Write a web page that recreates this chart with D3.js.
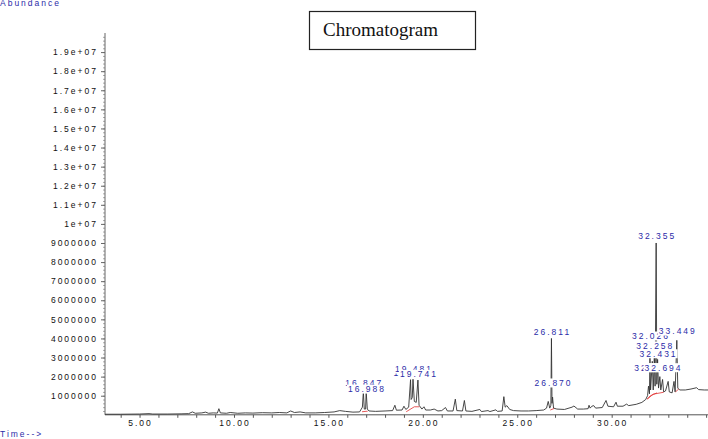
<!DOCTYPE html>
<html>
<head>
<meta charset="utf-8">
<script src="https://cdn.jsdelivr.net/npm/d3@7"></script>
<style>
  body { margin: 0; background: #fff; }
  svg { display: block; }
  .tick-label { font-family: "Liberation Sans", Arial, sans-serif; font-size: 8.5px; letter-spacing: 2px; fill: #111; }
  .peak-label { font-family: "Liberation Sans", Arial, sans-serif; font-size: 8.5px; letter-spacing: 2px; fill: #2b2ba8; }
  .blue-label { font-family: "Liberation Sans", Arial, sans-serif; font-size: 8.5px; letter-spacing: 2px; fill: #2b2ba8; }
</style>
</head>
<body>
<div id="chart"></div>
<script>
//~~~~~~~~~~~~~~~~~~~~~~~~~~~~~~~~~~~~
// Data
//~~~~~~~~~~~~~~~~~~~~~~~~~~~~~~~~~~~~
// trace points: [retention time (min), abundance (millions)]
const trace = [
    [3.17, 0.03], [4.0, 0.03], [5.0, 0.04], [5.5, 0.06], [5.7, 0.04], [6.5, 0.04], [7.2, 0.05],
    [7.6, 0.06], [7.8, 0.15], [7.95, 0.08], [8.3, 0.1], [8.5, 0.14], [8.65, 0.08], [8.9, 0.1],
    [9.12, 0.09], [9.2, 0.32], [9.28, 0.1], [9.6, 0.08], [9.8, 0.12], [10.2, 0.08], [10.6, 0.1],
    [11.0, 0.09], [11.5, 0.11], [12.0, 0.1], [12.4, 0.12], [12.8, 0.1], [13.0, 0.2], [13.2, 0.12],
    [13.5, 0.15], [13.8, 0.1], [14.3, 0.1], [14.8, 0.12], [15.3, 0.15], [15.6, 0.22], [15.9, 0.18],
    [16.3, 0.14], [16.65, 0.15], [16.8, 0.4], [16.85, 1.2], [16.9, 0.3], [16.97, 0.3], [17.0, 1.2],
    [17.06, 0.3], [17.15, 0.2], [17.5, 0.18], [18.0, 0.2], [18.4, 0.22], [18.52, 0.5], [18.6, 0.24],
    [18.9, 0.25], [19.0, 0.45], [19.1, 0.28], [19.25, 0.4], [19.35, 1.84], [19.38, 0.8], [19.44, 0.9],
    [19.48, 1.86], [19.55, 0.7], [19.65, 0.65], [19.74, 1.82], [19.8, 0.5], [19.95, 0.3], [20.06, 0.42],
    [20.15, 0.25], [20.4, 0.25], [20.6, 0.3], [20.8, 0.2], [21.0, 0.22], [21.2, 0.38], [21.3, 0.2],
    [21.6, 0.2], [21.72, 0.82], [21.8, 0.22], [22.1, 0.2], [22.2, 0.75], [22.28, 0.2], [22.6, 0.18],
    [23.02, 0.28], [23.1, 0.17], [23.45, 0.22], [23.55, 0.17], [23.87, 0.26], [23.95, 0.18], [24.2, 0.2],
    [24.29, 0.95], [24.36, 0.4], [24.45, 0.48], [24.6, 0.28], [24.8, 0.22], [25.2, 0.2], [25.6, 0.2],
    [26.0, 0.22], [26.4, 0.25], [26.55, 0.35], [26.64, 0.7], [26.72, 0.35], [26.78, 0.5], [26.81, 4.0],
    [26.84, 0.6], [26.87, 0.93], [26.92, 0.35], [27.1, 0.3], [27.5, 0.28], [27.9, 0.4], [28.0, 0.46],
    [28.2, 0.3], [28.5, 0.3], [28.75, 0.32], [28.8, 0.5], [28.86, 0.35], [28.95, 0.45], [29.05, 0.48],
    [29.15, 0.35], [29.5, 0.38], [29.7, 0.75], [29.8, 0.45], [30.1, 0.42], [30.23, 0.66], [30.3, 0.45],
    [30.6, 0.45], [30.79, 0.56], [30.9, 0.48], [31.3, 0.55], [31.6, 0.65], [31.8, 0.8], [31.9, 1.0],
    [31.95, 1.5], [32.0, 1.1], [32.026, 3.0], [32.06, 1.3], [32.15, 2.8], [32.2, 1.3], [32.258, 3.1],
    [32.3, 1.5], [32.355, 9.0], [32.39, 1.6], [32.431, 2.9], [32.48, 1.4], [32.55, 2.0], [32.6, 1.3],
    [32.694, 1.85], [32.75, 1.2], [32.85, 1.25], [32.99, 1.75], [33.05, 1.2], [33.2, 1.15], [33.3, 1.75],
    [33.36, 1.2], [33.449, 3.9], [33.5, 1.4], [33.6, 1.3], [33.9, 1.3], [34.2, 1.35], [34.5, 1.42],
    [34.6, 1.32], [34.9, 1.3], [35.1, 1.3]
];

// integration baselines: [t1, v1, t2, v2] (millions)
const baselines = [
    [16.78, 0.16, 17.08, 0.19],
    [19.12, 0.16, 19.55, 0.42],
    [19.55, 0.42, 19.82, 0.42],
    [26.75, 0.25, 26.95, 0.33],
    [31.88, 0.82, 32.05, 1.0],
    [31.88, 0.82, 32.2, 1.08],
    [32.05, 1.0, 32.4, 1.15],
    [32.2, 1.08, 32.75, 1.18],
    [33.38, 1.2, 33.55, 1.35]
];

// peak labels, in drawing order; level = abundance (millions) where the label sits
const peakNames  = ["16.847", "16.988", "19.394", "19.481", "19.741", "26.811", "26.870",
                    "32.026", "32.147", "32.258", "32.355", "32.431", "32.694", "33.449"];
const peakTimes  = [16.847, 16.988, 19.394, 19.481, 19.741, 26.811, 26.870,
                    32.026, 32.147, 32.258, 32.355, 32.431, 32.694, 33.449];
const peakLevels = [1.51, 1.19, 2.03, 2.24, 1.96, 4.18, 1.51,
                    3.97, 2.31, 3.45, 9.21, 3.04, 2.31, 4.23];

const xTicks = [4, 5, 6, 7, 8, 9, 10, 11, 12, 13, 14, 15, 16, 17, 18, 19, 20, 21, 22, 23, 24, 25,
                26, 27, 28, 29, 30, 31, 32, 33, 34, 35];
const xTickLabels = ["5.00", "10.00", "15.00", "20.00", "25.00", "30.00"];
const yTicks = [1e6, 2e6, 3e6, 4e6, 5e6, 6e6, 7e6, 8e6, 9e6, 1e7, 1.1e7, 1.2e7, 1.3e7, 1.4e7,
                1.5e7, 1.6e7, 1.7e7, 1.8e7, 1.9e7];

//~~~~~~~~~~~~~~~~~~~~~~~~~~~~~~~~~~~~
// Draw
//~~~~~~~~~~~~~~~~~~~~~~~~~~~~~~~~~~~~
const width = 708;
const height = 439;

const svg = d3.select("#chart")
    .append("svg")
    .attr("width", width)
    .attr("height", height);

const x = d3.scaleLinear().domain([3.17, 35.1]).range([105, 708]);
const y = d3.scaleLinear().domain([0, 2e7]).range([414.8, 33]);

function fmtY(v) {
    if (v < 1e7) return d3.format("d")(v);
    return (v / 1e7).toString() + "e+07";
}

// y axis
const minor = d3.range(2e5, 2e7, 2e5);
svg.append("g")
    .attr("transform", "translate(105,0)")
    .call(d3.axisLeft(y).tickValues(minor).tickSize(2).tickFormat(""))
    .call(g => g.select(".domain").remove())
    .call(g => g.selectAll("line").attr("stroke", "#aaa"));

svg.append("g")
    .attr("transform", "translate(105,0)")
    .call(d3.axisLeft(y).tickValues(yTicks).tickSize(4).tickPadding(3).tickFormat(fmtY))
    .call(g => g.select(".domain").attr("stroke", "#666").attr("d", `M0,${y(0)}V${y(2e7)}`))
    .call(g => g.selectAll("line").attr("stroke", "#666"))
    .call(g => g.selectAll("text").attr("class", "tick-label").attr("font-size", null).attr("font-family", null));

// x axis
svg.append("g")
    .attr("transform", `translate(0,${y(0)})`)
    .call(d3.axisBottom(x).tickValues(xTicks).tickSize(3).tickFormat(""))
    .call(g => g.select(".domain").attr("stroke", "#555").attr("d", `M105,0H708`))
    .call(g => g.selectAll("line").attr("stroke", "#555"));

svg.append("g")
    .selectAll("text")
    .data(xTickLabels)
    .join("text")
    .attr("class", "tick-label")
    .attr("x", d => x(+d) + 1)
    .attr("y", 425.5)
    .attr("text-anchor", "middle")
    .text(d => d);

// trace
const line = d3.line()
    .x(d => x(d[0]))
    .y(d => y(d[1] * 1e6));

svg.append("path")
    .datum(trace)
    .attr("fill", "none")
    .attr("stroke", "#333")
    .attr("stroke-width", 0.9)
    .attr("d", line);

// integration baselines
svg.append("g")
    .selectAll("line")
    .data(baselines)
    .join("line")
    .attr("x1", d => x(d[0]))
    .attr("y1", d => y(d[1] * 1e6))
    .attr("x2", d => x(d[2]))
    .attr("y2", d => y(d[3] * 1e6))
    .attr("stroke", "#e03030")
    .attr("stroke-width", 0.8);

// peak labels, each with a white background so later ones cover earlier ones
const labelLayer = svg.append("g");
peakNames.forEach((name, i) => {
    const g = labelLayer.append("g");
    const rect = g.append("rect").attr("fill", "#fff");
    const t = g.append("text")
        .attr("class", "peak-label")
        .attr("x", x(peakTimes[i]) + 1)
        .attr("y", y(peakLevels[i] * 1e6))
        .attr("text-anchor", "middle")
        .text(name);
    const bb = t.node().getBBox();
    rect.attr("x", bb.x - 1).attr("y", bb.y + 0.5).attr("width", bb.width + 1).attr("height", bb.height - 1);
});

// title box
svg.append("rect")
    .attr("x", 309.5).attr("y", 11.5)
    .attr("width", 166).attr("height", 38)
    .attr("fill", "#fff")
    .attr("stroke", "#222")
    .attr("stroke-width", 1.2);

svg.append("text")
    .attr("x", 323)
    .attr("y", 36)
    .attr("font-family", "'Liberation Serif', 'Times New Roman', serif")
    .attr("font-size", 19)
    .attr("fill", "#111")
    .text("Chromatogram");

// corner captions
svg.append("text")
    .attr("class", "blue-label")
    .attr("x", 0)
    .attr("y", 6)
    .text("Abundance");

svg.append("text")
    .attr("class", "blue-label")
    .attr("x", 0)
    .attr("y", 437)
    .attr("letter-spacing", "1px")
    .text("Time-->");
</script>
</body>
</html>
